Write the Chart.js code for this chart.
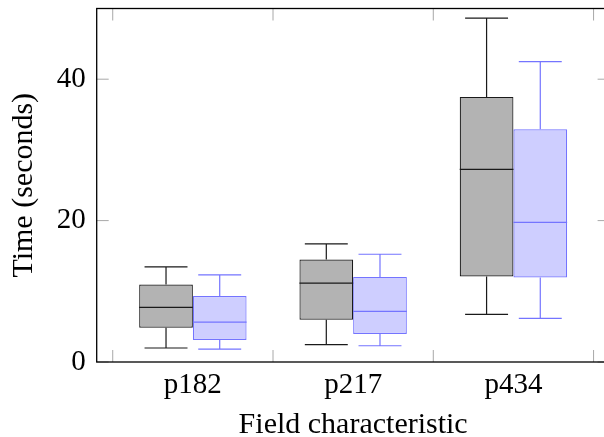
<!DOCTYPE html>
<html><head><meta charset="utf-8">
<script src="https://cdn.jsdelivr.net/npm/chart.js@4/dist/chart.umd.min.js"></script>
<style>
html,body{margin:0;padding:0;background:#fff;overflow:hidden;width:604px;height:437px}
#wrap{position:relative;width:620px;height:437px}
</style></head>
<body><div id="wrap"><canvas id="c"></canvas></div>
<script>
const categories = ['p182', 'p217', 'p434'];
const yTicks = [0, 20, 40];

const grayMin    = [1.98, 2.45, 6.73];
const grayQ1     = [4.84, 5.97, 12.09];
const grayMedian = [7.72, 11.15, 27.24];
const grayQ3     = [10.96, 14.49, 37.5];
const grayMax    = [13.45, 16.7, 48.65];

const blueMin    = [1.83, 2.30, 6.17];
const blueQ1     = [3.11, 3.95, 11.95];
const blueMedian = [5.65, 7.15, 19.76];
const blueQ3     = [9.32, 12.04, 32.93];
const blueMax    = [12.32, 15.24, 42.48];

const series = [
  {min: grayMin, q1: grayQ1, med: grayMedian, q3: grayQ3, max: grayMax, fill: '#b3b3b3', stroke: '#1a1a1a'},
  {min: blueMin, q1: blueQ1, med: blueMedian, q3: blueQ3, max: blueMax, fill: '#ceceff', stroke: '#7474ff'}
];

const FONT = 'Liberation Serif';

const boxPlugin = {
  id: 'boxplot',
  beforeDatasetsDraw(chart) {
    const {ctx, chartArea: a, scales: {x, y}} = chart;
    const L = 12;
    ctx.save();
    ctx.strokeStyle = '#a8a8a8';
    ctx.lineWidth = 1;
    const line = (x1, y1, x2, y2) => { ctx.beginPath(); ctx.moveTo(x1, y1); ctx.lineTo(x2, y2); ctx.stroke(); };
    for (let i = 0; i <= categories.length; i++) {
      const px = x.getPixelForValue(i + 0.5);
      line(px, a.bottom, px, a.bottom - L);
      line(px, a.top, px, a.top + L);
    }
    yTicks.forEach(v => {
      const py = y.getPixelForValue(v);
      line(a.left, py, a.left + L, py);
      line(a.right, py, a.right - L, py);
    });
    ctx.restore();
  },
  afterDatasetsDraw(chart) {
    const {ctx, chartArea: a, scales: {y}} = chart;
    ctx.save();
    ctx.lineWidth = 1.2;
    series.forEach((s, d) => {
      const meta = chart.getDatasetMeta(d);
      ctx.strokeStyle = s.stroke;
      meta.data.forEach((el, i) => {
        const cx = el.x, w = el.width, cap = w * 0.8;
        const yMin = y.getPixelForValue(s.min[i]);
        const yQ1 = y.getPixelForValue(s.q1[i]);
        const yMed = y.getPixelForValue(s.med[i]);
        const yQ3 = y.getPixelForValue(s.q3[i]);
        const yMax = y.getPixelForValue(s.max[i]);
        ctx.beginPath();
        ctx.moveTo(cx, yQ3); ctx.lineTo(cx, yMax);
        ctx.moveTo(cx - cap / 2, yMax); ctx.lineTo(cx + cap / 2, yMax);
        ctx.moveTo(cx, yQ1); ctx.lineTo(cx, yMin);
        ctx.moveTo(cx - cap / 2, yMin); ctx.lineTo(cx + cap / 2, yMin);
        ctx.moveTo(cx - w / 2, yMed); ctx.lineTo(cx + w / 2, yMed);
        ctx.stroke();
      });
    });
    ctx.strokeStyle = '#000';
    ctx.lineWidth = 1.3;
    ctx.strokeRect(a.left, a.top, a.right - a.left, a.bottom - a.top);
    ctx.restore();
  }
};

new Chart(document.getElementById('c'), {
  type: 'bar',
  data: {
    datasets: series.map(s => ({
      data: categories.map((c, i) => ({x: i + 1, y: [s.q1[i], s.q3[i]]})),
      backgroundColor: s.fill,
      borderColor: s.stroke,
      borderWidth: 1.2,
      borderSkipped: false,
      categoryPercentage: 0.67,
      barPercentage: 1
    }))
  },
  options: {
    responsive: true,
    maintainAspectRatio: false,
    animation: false,
    layout: {padding: {top: 8.5, right: 10.4, left: 0, bottom: 0}},
    plugins: {legend: {display: false}, tooltip: {enabled: false}},
    scales: {
      x: {
        type: 'linear',
        offset: false,
        min: 0.4, max: 3.6,
        grid: {display: false, drawTicks: false, offset: false},
        border: {display: false},
        afterBuildTicks: s => { s.ticks = categories.map((c, i) => ({value: i + 1})); },
        afterFit: s => { s.height = 75; s.paddingLeft = 0; s.paddingRight = 0; },
        ticks: {
          autoSkip: false, maxRotation: 0, padding: 6, color: '#000',
          font: {family: FONT, size: 29},
          callback: v => categories[Math.round(v) - 1]
        },
        title: {display: true, text: 'Field characteristic', color: '#000',
          font: {family: FONT, size: 30, lineHeight: 0.8}, padding: {top: 0, bottom: 0}}
      },
      y: {
        min: 0, max: 50,
        grid: {display: false, drawTicks: false},
        border: {display: false},
        afterBuildTicks: s => { s.ticks = yTicks.map(v => ({value: v})); },
        afterFit: s => { s.width = 96.7; s.paddingTop = 0; s.paddingBottom = 0; },
        ticks: {padding: 11, color: '#000', font: {family: FONT, size: 29}},
        title: {display: true, text: 'Time (seconds)', color: '#000',
          font: {family: FONT, size: 30, lineHeight: 1}, padding: {top: 9, bottom: 0}}
      }
    }
  },
  plugins: [boxPlugin]
});
</script>
</body></html>
